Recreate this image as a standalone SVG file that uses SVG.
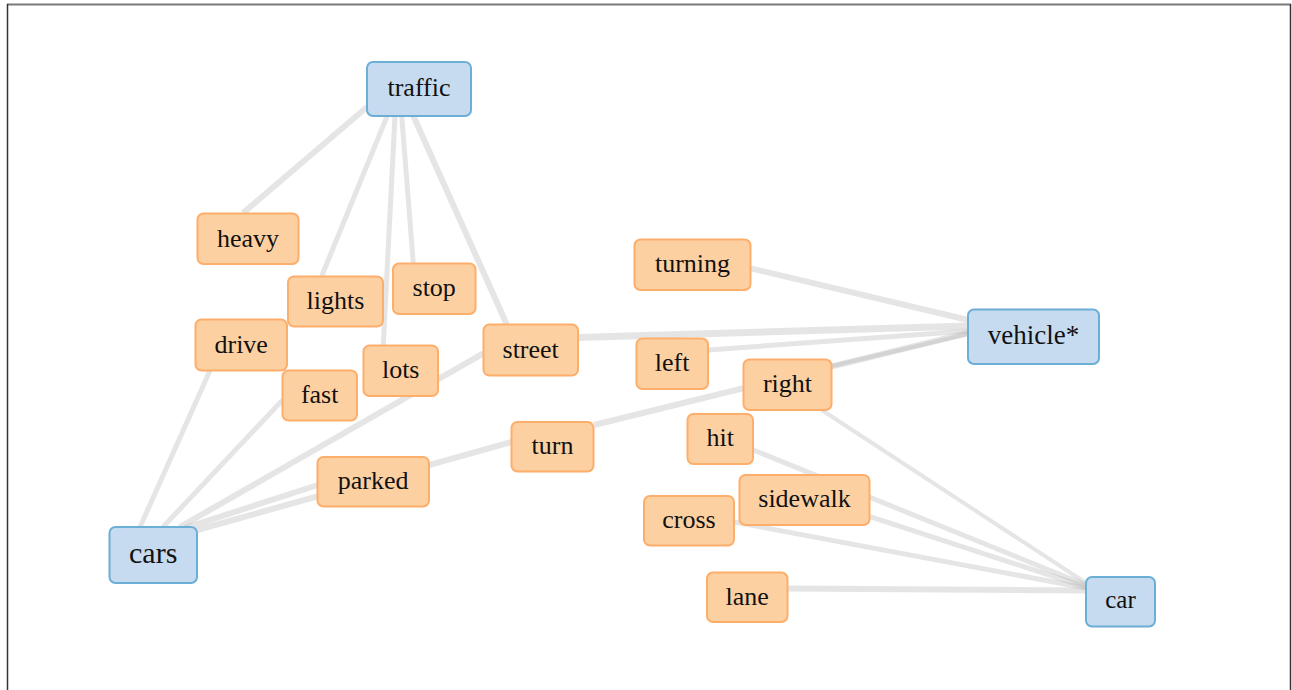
<svg xmlns="http://www.w3.org/2000/svg" width="1292" height="690" viewBox="0 0 1292 690">
<style>
.bg{fill:#ffffff}
.edge{stroke:#aaaaaa;stroke-opacity:0.3;stroke-linecap:butt;fill:none}
.hub rect{fill:#c6dbef;stroke:#6baed6;stroke-width:2}
.word rect{fill:#fdd0a2;stroke:#fdae6b;stroke-width:2}
text{font-family:"Liberation Serif","Times New Roman",serif;fill:#111111;text-anchor:middle}
.word text{font-size:26px}
</style>
<rect class="bg" x="0" y="0" width="1292" height="690"/>
<line x1="7" y1="4.5" x2="1291" y2="4.5" stroke="#7a7a7a" stroke-width="2"/>
<line x1="7.5" y1="4" x2="7.5" y2="690" stroke="#333333" stroke-width="1.5"/>
<line x1="1290.5" y1="4" x2="1290.5" y2="690" stroke="#333333" stroke-width="1.5"/>
<g id="connectors">
<line class="edge" stroke-width="6" x1="243" y1="213" x2="367" y2="107"/>
<line class="edge" stroke-width="5" x1="321.7" y1="276" x2="387.3" y2="115.7"/>
<line class="edge" stroke-width="5" x1="383.3" y1="345" x2="395" y2="115.7"/>
<line class="edge" stroke-width="5" x1="413.3" y1="263.3" x2="401.7" y2="115.7"/>
<line class="edge" stroke-width="6" x1="506.7" y1="324.3" x2="413.3" y2="115.7"/>
<line class="edge" stroke-width="5" x1="140" y1="527" x2="210" y2="370.5"/>
<line class="edge" stroke-width="5" x1="163" y1="527" x2="282.5" y2="400"/>
<line class="edge" stroke-width="6" x1="180" y1="527" x2="483.3" y2="353.3"/>
<line class="edge" stroke-width="6" x1="185" y1="528" x2="318" y2="485"/>
<line class="edge" stroke-width="6" x1="190" y1="532" x2="511.7" y2="442"/>
<line class="edge" stroke-width="6" x1="594" y1="425" x2="968" y2="333"/>
<line class="edge" stroke-width="4" x1="832" y1="366" x2="968" y2="334"/>
<line class="edge" stroke-width="6" x1="750.7" y1="268.3" x2="968.3" y2="320"/>
<line class="edge" stroke-width="7" x1="578" y1="337.5" x2="968" y2="326"/>
<line class="edge" stroke-width="5" x1="708.3" y1="350" x2="968.3" y2="331"/>
<line class="edge" stroke-width="4" x1="821.7" y1="410" x2="1086" y2="583"/>
<line class="edge" stroke-width="5" x1="753.3" y1="450" x2="1086" y2="585"/>
<line class="edge" stroke-width="5" x1="870" y1="516.7" x2="1086" y2="587"/>
<line class="edge" stroke-width="5" x1="734.3" y1="522" x2="1086" y2="588"/>
<line class="edge" stroke-width="6" x1="787.7" y1="588.5" x2="1086" y2="590.5"/>
</g>
<g id="node-traffic" class="hub"><rect x="367" y="62" width="104" height="54" rx="6"/><text x="419" y="96" font-size="26">traffic</text></g>
<g id="node-heavy" class="word"><rect x="197.5" y="213.5" width="101" height="50.5" rx="6"/><text x="248" y="246.5">heavy</text></g>
<g id="node-lights" class="word"><rect x="288" y="276.5" width="95" height="50" rx="6"/><text x="335.5" y="309">lights</text></g>
<g id="node-stop" class="word"><rect x="393" y="263.5" width="82.5" height="50.5" rx="6"/><text x="434.2" y="296">stop</text></g>
<g id="node-drive" class="word"><rect x="195.5" y="319.5" width="91.5" height="51" rx="6"/><text x="241.2" y="352.5">drive</text></g>
<g id="node-lots" class="word"><rect x="363.5" y="345.5" width="74.5" height="50.5" rx="6"/><text x="400.7" y="378">lots</text></g>
<g id="node-street" class="word"><rect x="483.5" y="324.5" width="94.5" height="51" rx="6"/><text x="530.7" y="357.5">street</text></g>
<g id="node-fast" class="word"><rect x="282.5" y="370.5" width="74.5" height="50" rx="6"/><text x="319.7" y="402.5">fast</text></g>
<g id="node-turning" class="word"><rect x="634.5" y="239.5" width="116" height="50.5" rx="6"/><text x="692.5" y="272">turning</text></g>
<g id="node-vehicle" class="hub"><rect x="968" y="309.5" width="131" height="54.5" rx="6"/><text x="1033.5" y="344" font-size="27">vehicle*</text></g>
<g id="node-left" class="word"><rect x="636.5" y="338.5" width="71.5" height="50.5" rx="6"/><text x="672.2" y="371">left</text></g>
<g id="node-right" class="word"><rect x="743.5" y="359.5" width="88" height="50.5" rx="6"/><text x="787.5" y="392">right</text></g>
<g id="node-hit" class="word"><rect x="687.5" y="414" width="65.5" height="50" rx="6"/><text x="720.2" y="446">hit</text></g>
<g id="node-turn" class="word"><rect x="511.5" y="422" width="82" height="49.5" rx="6"/><text x="552.5" y="454">turn</text></g>
<g id="node-parked" class="word"><rect x="317.5" y="457" width="111.5" height="49.5" rx="6"/><text x="373.2" y="489">parked</text></g>
<g id="node-sidewalk" class="word"><rect x="739.5" y="475" width="130" height="50" rx="6"/><text x="804.5" y="507">sidewalk</text></g>
<g id="node-cross" class="word"><rect x="644" y="496" width="90" height="49.5" rx="6"/><text x="689" y="528">cross</text></g>
<g id="node-cars" class="hub"><rect x="109.5" y="527" width="87.5" height="56" rx="6"/><text x="153.2" y="563" font-size="30">cars</text></g>
<g id="node-lane" class="word"><rect x="707" y="572.5" width="80.5" height="49.5" rx="6"/><text x="747.2" y="604.5">lane</text></g>
<g id="node-car" class="hub"><rect x="1086" y="577" width="69" height="49.5" rx="6"/><text x="1120.5" y="608" font-size="25">car</text></g>
</svg>
